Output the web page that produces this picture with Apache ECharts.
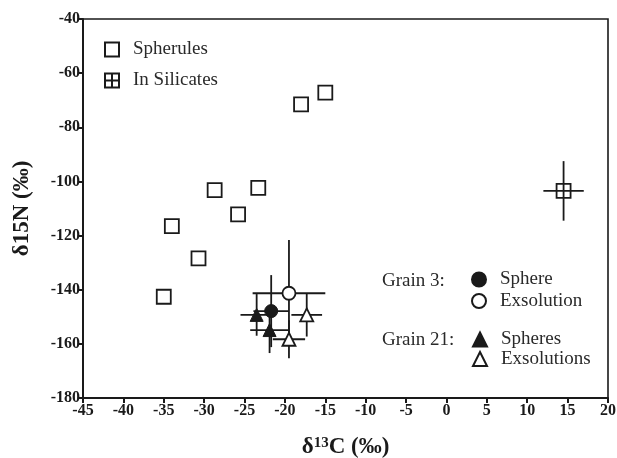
<!DOCTYPE html>
<html>
<head>
<meta charset="utf-8">
<script src="https://cdn.jsdelivr.net/npm/echarts@6/dist/echarts.min.js"></script>
<style>
  html, body { margin: 0; padding: 0; background: #fff; }
  #main { width: 617px; height: 458px; }
</style>
</head>
<body>
<div id="main"></div>
<script>
// delta13C (x) and delta15N (y), permil
var spherulesX = [-35.0, -34.0, -30.7, -28.7, -25.8, -23.3, -18.0, -15.0];
var spherulesY = [-142.6, -116.5, -128.4, -103.2, -112.2, -102.4, -71.5, -67.2];

var silicatesX = [14.5];
var silicatesY = [-103.5];
var silicatesXErr = [2.5];
var silicatesYErr = [11];

var g3SphereX = [-21.7];
var g3SphereY = [-147.9];
var g3SphereXErr = [2.2];
var g3SphereYErr = [13.3];

var g3ExsolX = [-19.5];
var g3ExsolY = [-141.3];
var g3ExsolXErr = [4.5];
var g3ExsolYErr = [19.7];

var g21SphereX = [-23.5, -21.9];
var g21SphereY = [-149.3, -154.9];
var g21SphereXErr = [2.0, 2.4];
var g21SphereYErr = [7.7, 8.5];

var g21ExsolX = [-17.3, -19.5];
var g21ExsolY = [-149.3, -158.3];
var g21ExsolXErr = [1.9, 2.0];
var g21ExsolYErr = [8.0, 7.0];

var ink = '#1a1a1a';
var serif = "'Liberation Serif', 'DejaVu Serif', serif";

function pts(xs, ys) {
    return xs.map(function (x, i) { return [x, ys[i]]; });
}

function errs(xs, ys, ex, ey) {
    return xs.map(function (x, i) { return [x, ys[i], ex[i], ey[i]]; });
}

var errorData = []
    .concat(errs(silicatesX, silicatesY, silicatesXErr, silicatesYErr))
    .concat(errs(g3SphereX, g3SphereY, g3SphereXErr, g3SphereYErr))
    .concat(errs(g3ExsolX, g3ExsolY, g3ExsolXErr, g3ExsolYErr))
    .concat(errs(g21SphereX, g21SphereY, g21SphereXErr, g21SphereYErr))
    .concat(errs(g21ExsolX, g21ExsolY, g21ExsolXErr, g21ExsolYErr));

var chart = echarts.init(document.getElementById('main'));

var openStyle = { color: '#fff', borderColor: ink, borderWidth: 1.8, opacity: 1 };
var fillStyle = { color: ink, borderColor: ink, borderWidth: 1, opacity: 1 };
var legendText = { fontFamily: serif, fontSize: 19, color: '#2a2a2a', padding: [0, 0, 0, 9] };

var option = {
    animation: false,
    backgroundColor: '#fff',
    grid: {
        left: 83, right: 9, top: 19, bottom: 60,
        outerBoundsMode: 'none',
        show: true, borderColor: ink, borderWidth: 1.6
    },
    xAxis: {
        type: 'value',
        min: -45, max: 20, interval: 5,
        name: '{d|δ}{s|13}{d|C (‰)}',
        nameLocation: 'middle',
        nameGap: 38,
        nameTextStyle: {
            rich: {
                d: { fontFamily: serif, fontWeight: 'bold', fontSize: 23, color: ink },
                s: { fontFamily: serif, fontWeight: 'bold', fontSize: 15, color: ink, verticalAlign: 'top', padding: [0, 0, 7, 0] }
            }
        },
        axisLine: { onZero: false, lineStyle: { color: ink, width: 2 } },
        axisTick: { length: 5, lineStyle: { color: ink, width: 2 } },
        axisLabel: { fontFamily: serif, fontWeight: 'bold', fontSize: 16, color: ink, margin: 5 },
        splitLine: { show: false }
    },
    yAxis: {
        type: 'value',
        min: -180, max: -40, interval: 20,
        name: 'δ15N (‰)',
        nameLocation: 'middle',
        nameGap: 49,
        nameTextStyle: { fontFamily: serif, fontWeight: 'bold', fontSize: 23, color: ink },
        axisLine: { onZero: false, lineStyle: { color: ink, width: 2 } },
        axisTick: { length: 5, lineStyle: { color: ink, width: 2 } },
        axisLabel: { fontFamily: serif, fontWeight: 'bold', fontSize: 16, color: ink, margin: 3 },
        splitLine: { show: false }
    },
    legend: [
        {
            data: ['Spherules', 'In Silicates'],
            orient: 'vertical', left: 104, top: 40, padding: 0,
            itemWidth: 14, itemHeight: 14, itemGap: 12,
            textStyle: legendText
        },
        {
            data: ['Sphere', 'Exsolution'],
            orient: 'vertical', left: 471, top: 270, padding: 0,
            itemWidth: 14, itemHeight: 14, itemGap: 2.5,
            textStyle: legendText
        },
        {
            data: ['Spheres', 'Exsolutions'],
            orient: 'vertical', left: 472, top: 330, padding: 0,
            itemWidth: 14, itemHeight: 14, itemGap: 0.5,
            textStyle: legendText
        }
    ],
    graphic: [
        { type: 'text', left: 382, top: 272, style: { text: 'Grain 3:', font: '19px ' + serif, fill: '#2a2a2a' } },
        { type: 'text', left: 382, top: 331, style: { text: 'Grain 21:', font: '19px ' + serif, fill: '#2a2a2a' } }
    ],
    series: [
        {
            type: 'custom',
            name: 'errors',
            z: 1,
            data: errorData,
            encode: { x: 0, y: 1 },
            renderItem: function (params, api) {
                var x = api.value(0), y = api.value(1);
                var ex = api.value(2), ey = api.value(3);
                var l = api.coord([x - ex, y]), r = api.coord([x + ex, y]);
                var t = api.coord([x, y + ey]), b = api.coord([x, y - ey]);
                var st = { stroke: ink, lineWidth: 1.8 };
                return {
                    type: 'group',
                    children: [
                        { type: 'line', shape: { x1: l[0], y1: l[1], x2: r[0], y2: r[1] }, style: st },
                        { type: 'line', shape: { x1: t[0], y1: t[1], x2: b[0], y2: b[1] }, style: st }
                    ]
                };
            }
        },
        {
            type: 'scatter', name: 'Spherules', z: 3,
            symbol: 'rect', symbolSize: 14,
            itemStyle: openStyle,
            data: pts(spherulesX, spherulesY)
        },
        {
            type: 'scatter', name: 'In Silicates', z: 3,
            symbol: 'path://M0,0H10V10H0Z M5,0V10 M0,5H10', symbolSize: 14,
            itemStyle: openStyle,
            data: pts(silicatesX, silicatesY)
        },
        {
            type: 'scatter', name: 'Sphere', z: 4,
            symbol: 'circle', symbolSize: 13,
            itemStyle: fillStyle,
            data: pts(g3SphereX, g3SphereY)
        },
        {
            type: 'scatter', name: 'Exsolution', z: 3,
            symbol: 'circle', symbolSize: 13,
            itemStyle: openStyle,
            data: pts(g3ExsolX, g3ExsolY)
        },
        {
            type: 'scatter', name: 'Spheres', z: 4,
            symbol: 'triangle', symbolSize: 13,
            itemStyle: fillStyle,
            data: pts(g21SphereX, g21SphereY)
        },
        {
            type: 'scatter', name: 'Exsolutions', z: 3,
            symbol: 'triangle', symbolSize: 13,
            itemStyle: openStyle,
            data: pts(g21ExsolX, g21ExsolY)
        }
    ]
};

chart.setOption(option);

window.onresize = chart.resize;
</script>
</body>
</html>
